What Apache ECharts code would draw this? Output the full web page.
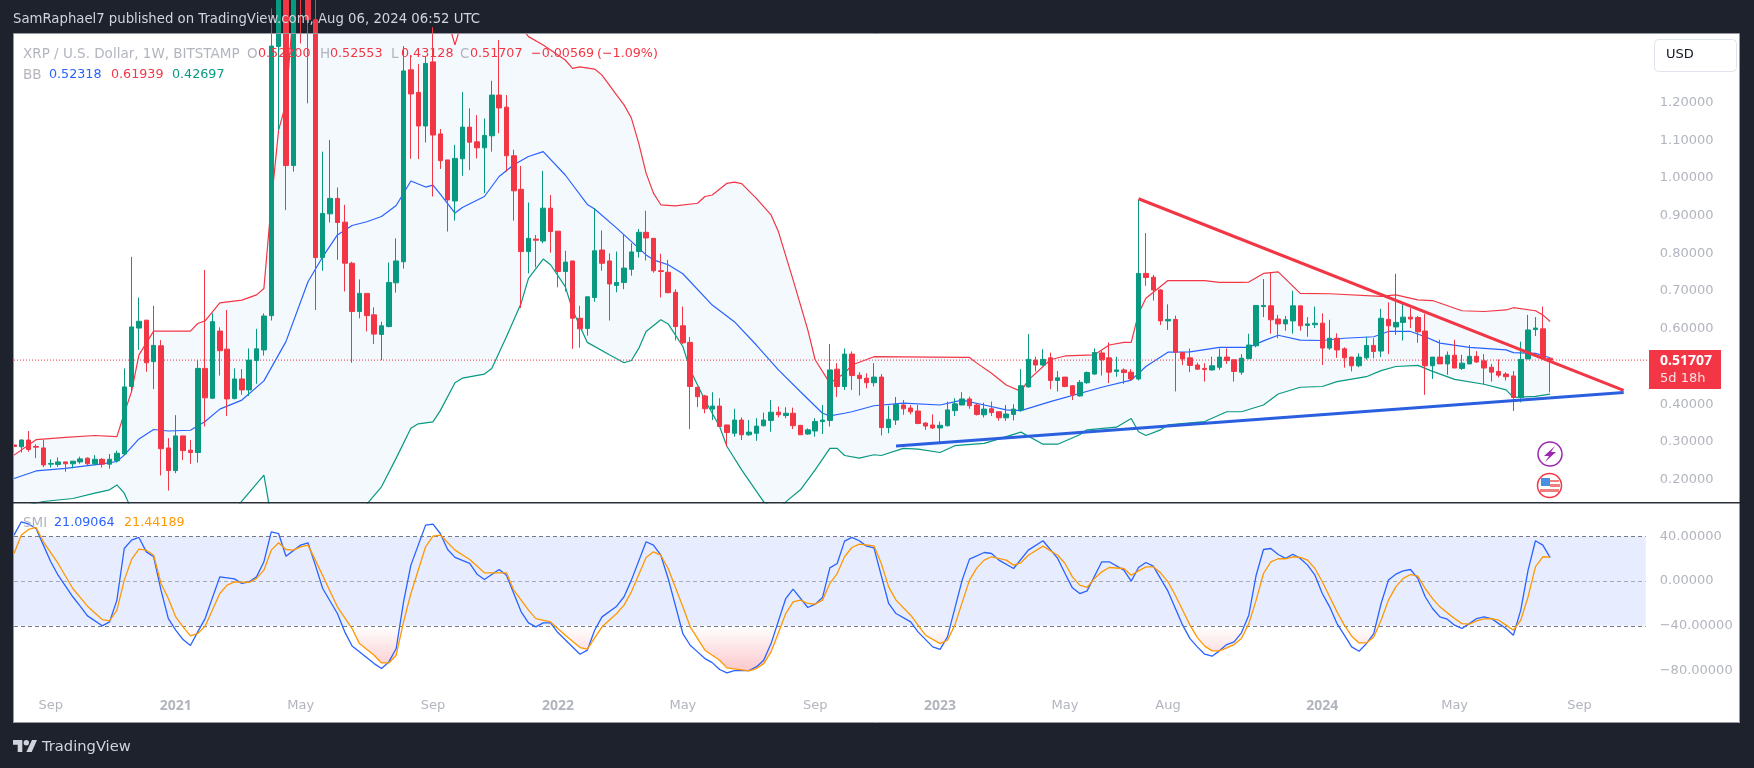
<!DOCTYPE html>
<html><head><meta charset="utf-8">
<script src="https://cdn.jsdelivr.net/npm/echarts@6/dist/echarts.min.js"></script>
<style>html,body{margin:0;padding:0;background:#1e222d}#c{width:1754px;height:768px}</style>
</head><body><div id="c"></div>
<script>
const open=[.292,.287,.305,.288,.284,.241,.240,.247,.242,.247,
.257,.242,.254,.241,.250,.268,.447,.602,.623,.513,
.555,.284,.224,.316,.278,.272,.495,.416,.594,.546,
.415,.467,.438,.516,.544,.635,1.349,1.60,1.033,1.60,
1.70,1.42,.789,.905,.946,.883,.774,.646,.694,.637,
.585,.606,.722,.778,1.287,1.227,1.138,1.308,1.117,1.048,
.939,1.051,1.135,1.096,1.080,1.112,1.220,1.188,1.059,.970,
.805,.838,.833,.920,.859,.752,.780,.628,.601,.683,
.809,.780,.715,.723,.758,.805,.856,.840,.754,.750,
.697,.608,.564,.445,.422,.387,.395,.345,.323,.358,
.319,.323,.343,.357,.379,.370,.376,.344,.321,.329,
.354,.357,.493,.447,.533,.477,.469,.457,.472,.338,
.358,.398,.390,.382,.350,.345,.337,.343,.383,.398,
.414,.398,.372,.388,.380,.364,.373,.385,.446,.517,
.504,.523,.463,.472,.449,.422,.457,.480,.536,.523,
.487,.491,.485,.467,.747,.737,.703,.621,.625,.537,
.523,.504,.495,.491,.498,.525,.518,.485,.521,.555,
.659,.661,.626,.613,.621,.661,.609,.611,.615,.549,
.575,.547,.525,.502,.523,.556,.541,.625,.605,.617,
.631,.630,.594,.502,.525,.507,.530,.495,.507,.527,
.515,.498,.487,.480,.475,.418,.520,.598,.600,.522];
const high=[.320,.307,.329,.294,.305,.254,.259,.247,.249,.261,
.259,.265,.257,.268,.277,.495,.791,.683,.623,.661,
.570,.310,.371,.316,.305,.517,.756,.641,.604,.650,
.495,.493,.548,.600,.641,1.45,1.70,1.96,1.65,1.80,
1.85,1.50,1.070,1.101,.975,.929,.778,.731,.694,.657,
.619,.776,.840,1.350,1.326,1.302,1.322,1.40,1.130,1.048,
1.088,1.228,1.185,1.167,1.158,1.258,1.366,1.220,1.075,1.032,
.935,.849,1.019,.955,.859,.807,.780,.661,.685,.920,
.861,.800,.805,.851,.827,.865,.913,.840,.799,.783,
.705,.659,.578,.445,.425,.432,.416,.345,.388,.365,
.358,.363,.378,.411,.394,.392,.391,.345,.336,.363,
.398,.560,.509,.548,.540,.485,.482,.509,.480,.396,
.419,.411,.398,.398,.352,.373,.354,.407,.416,.432,
.420,.401,.404,.407,.380,.398,.400,.493,.586,.526,
.546,.537,.488,.472,.451,.464,.487,.548,.542,.564,
.526,.495,.493,.942,.854,.743,.705,.665,.635,.537,
.548,.510,.509,.526,.548,.548,.518,.533,.587,.662,
.732,.750,.637,.634,.701,.661,.631,.659,.641,.624,
.588,.551,.526,.535,.579,.575,.653,.670,.746,.668,
.655,.634,.640,.525,.571,.540,.571,.531,.557,.541,
.533,.507,.519,.485,.488,.566,.637,.631,.659,.52553];
const low=[.283,.272,.274,.257,.233,.232,.234,.221,.230,.242,
.238,.238,.232,.229,.245,.265,.431,.544,.486,.440,
.211,.171,.217,.252,.242,.245,.341,.414,.476,.369,
.413,.425,.422,.454,.529,.622,1.127,.915,1.017,1.357,
1.198,.650,.754,.882,.783,.699,.510,.628,.593,.560,
.517,.604,.696,.760,1.051,1.050,1.094,.951,1.024,.858,
.887,1.006,1.021,1.052,.960,1.070,1.119,1.017,.887,.655,
.747,.763,.827,.802,.710,.699,.547,.550,.582,.672,
.754,.622,.697,.705,.741,.789,.781,.749,.683,.694,
.569,.560,.334,.392,.376,.358,.341,.288,.314,.305,
.316,.303,.341,.327,.365,.363,.334,.319,.319,.314,
.321,.341,.419,.438,.438,.423,.442,.447,.317,.323,
.345,.372,.373,.347,.332,.334,.299,.341,.369,.398,
.388,.370,.365,.369,.356,.356,.357,.380,.444,.487,
.502,.440,.434,.445,.411,.420,.454,.478,.476,.456,
.473,.454,.463,.463,.714,.675,.610,.597,.434,.504,
.485,.491,.460,.489,.491,.507,.460,.478,.519,.551,
.631,.587,.575,.595,.587,.595,.579,.602,.504,.544,
.523,.497,.487,.498,.518,.522,.525,.533,.584,.569,
.602,.563,.425,.467,.507,.478,.496,.491,.506,.510,
.453,.460,.471,.463,.382,.405,.520,.581,.519,.43128];
const close=[.288,.305,.280,.286,.239,.243,.247,.242,.249,.255,
.242,.254,.241,.254,.270,.446,.605,.620,.510,.556,
.282,.224,.316,.277,.272,.495,.417,.619,.542,.414,
.467,.438,.517,.547,.634,1.350,1.56,1.033,1.55,1.48,
1.42,.789,.906,.946,.882,.774,.646,.694,.635,.586,
.608,.723,.780,1.284,1.223,1.138,1.304,1.114,1.046,.942,
1.052,1.135,1.095,1.080,1.113,1.220,1.186,1.059,.966,.805,
.840,.835,.920,.858,.752,.777,.628,.600,.685,.807,
.774,.719,.723,.761,.804,.856,.841,.754,.752,.696,
.606,.563,.447,.420,.388,.395,.341,.325,.358,.319,
.326,.342,.358,.379,.372,.376,.343,.319,.332,.354,
.358,.491,.447,.533,.476,.468,.457,.472,.338,.360,
.399,.388,.380,.349,.342,.337,.344,.385,.401,.414,
.396,.373,.387,.378,.364,.374,.387,.449,.519,.504,
.519,.463,.470,.447,.425,.458,.484,.537,.518,.485,
.491,.484,.467,.747,.736,.703,.621,.625,.538,.520,
.503,.493,.492,.502,.525,.516,.487,.522,.557,.662,
.662,.624,.613,.624,.661,.608,.613,.615,.549,.575,
.544,.523,.502,.525,.556,.540,.628,.608,.617,.631,
.626,.592,.502,.525,.507,.530,.496,.509,.527,.512,
.496,.485,.477,.473,.418,.519,.597,.602,.522,.51707];

const bbUpper=[[0,.265],[3,.306],[7,.312],[11,.317],[14,.314],[15,.376],[16,.434],[17,.531],[19,.594],[24,.594],[25,.614],[26,.621],[28,.669],[31,.676],[33,.690],[34,.707],[35,.933],[36,1.127],[37,1.198],[38,1.45],[39,1.75],[41,2.05],[50,2.15],[55,1.95],[58,1.55],[59,1.42],[60,1.353],[61,1.42],[62,1.6],[66,1.65],[68,1.5],[69,1.40],[70,1.375],[72,1.353],[75,1.313],[76,1.291],[77,1.295],[79,1.289],[80,1.273],[82,1.220],[83,1.194],[84,1.159],[85,1.092],[86,1.013],[87,.960],[88,.929],[90,.926],[93,.933],[94,.951],[95,.955],[97,.986],[98,.989],[99,.985],[101,.946],[103,.902],[104,.858],[106,.730],[108,.597],[109,.518],[111,.456],[113,.482],[114,.504],[117,.526],[125,.525],[130,.524],[131,.509],[133,.482],[135,.451],[137,.434],[138,.464],[141,.518],[143,.528],[147,.531],[149,.557],[151,.564],[152,.564],[153,.641],[154,.681],[157,.728],[162,.728],[164,.723],[167,.723],[168,.724],[170,.747],[172,.751],[175,.694],[179,.693],[186,.686],[188,.690],[191,.677],[193,.675],[197,.648],[200,.646],[203,.650],[204,.656],[207,.648],[208,.637],[209,.61939]];
const bbBasis=[[0,.203],[3,.223],[7,.230],[12,.242],[14,.248],[15,.265],[17,.308],[19,.333],[21,.329],[24,.331],[26,.354],[28,.387],[31,.411],[34,.462],[37,.566],[40,.725],[42,.791],[44,.849],[46,.874],[48,.884],[50,.898],[52,.927],[54,.992],[56,.976],[57,.981],[58,.957],[60,.907],[61,.922],[64,.951],[66,1.004],[68,1.035],[70,1.057],[72,1.070],[75,1.008],[78,.930],[79,.918],[82,.867],[86,.796],[87,.783],[89,.770],[91,.746],[95,.663],[98,.619],[101,.557],[104,.491],[107,.433],[110,.376],[111,.369],[113,.376],[114,.380],[117,.396],[121,.403],[126,.398],[129,.411],[132,.398],[135,.385],[137,.383],[141,.407],[148,.445],[152,.464],[154,.500],[157,.538],[160,.539],[164,.551],[168,.551],[170,.568],[172,.583],[175,.570],[178,.569],[181,.575],[185,.579],[187,.593],[190,.593],[192,.579],[194,.562],[198,.551],[203,.544],[204,.537],[207,.535],[209,.52318]];
const bbLower=[[0,.125],[4,.142],[8,.150],[11,.164],[13,.173],[14,.186],[15,.164],[16,.12],[20,-.02],[25,0],[30,.12],[34,.212],[35,.1],[38,-.5],[45,-.3],[48,.135],[50,.181],[52,.257],[54,.336],[55,.348],[57,.353],[58,.383],[60,.457],[61,.469],[64,.480],[65,.495],[67,.579],[69,.668],[70,.734],[72,.785],[73,.770],[75,.712],[76,.650],[78,.564],[81,.531],[83,.510],[84,.516],[85,.548],[86,.593],[88,.624],[89,.613],[91,.553],[92,.491],[94,.411],[96,.341],[97,.288],[99,.226],[102,.141],[104,.12],[105,.141],[107,.173],[109,.226],[111,.283],[112,.283],[113,.264],[115,.257],[117,.266],[118,.264],[121,.283],[123,.281],[126,.272],[128,.290],[132,.296],[137,.326],[140,.294],[142,.294],[145,.319],[146,.332],[150,.339],[152,.362],[153,.327],[154,.317],[156,.332],[157,.345],[162,.354],[165,.380],[167,.380],[170,.398],[172,.427],[175,.445],[178,.447],[180,.460],[184,.473],[186,.489],[188,.500],[191,.503],[193,.487],[196,.466],[200,.453],[203,.438],[204,.418],[207,.421],[209,.42697]];

const smiValues=[[0,41.2],[1,53.1],[2,51],[3,47.1],[4,32.2],[5,17.3],[6,5.3],[8,-14],[9,-22.4],[10,-31.1],[12,-40],[13,-36.5],[14,-17],[15,29.2],[16,36.7],[17,39.1],[18,26.2],[19,21.8],[20,-8.1],[21,-33.5],[22,-43.9],[23,-52.3],[24,-57.6],[25,-45.4],[26,-33.5],[28,3.8],[30,2],[31,-2.1],[32,-.6],[33,3.8],[34,17.3],[35,44.1],[36,42.6],[37,22.3],[39,32.2],[40,34.3],[41,14.3],[42,-6.6],[44,-29],[45,-45.4],[46,-58],[49,-73.8],[50,-78.2],[51,-72.3],[52,-60.3],[53,-18.5],[54,14.3],[56,50.1],[57,51],[58,42.6],[59,28.3],[60,21.2],[62,15.8],[63,6.2],[64,1.5],[66,10.4],[67,5.3],[69,-27.5],[70,-37.4],[71,-40.9],[72,-37.4],[73,-37.4],[74,-46],[77,-65.4],[78,-61.8],[79,-44],[80,-32],[82,-22.4],[83,-14],[84,.9],[86,35.2],[87,32.2],[88,23.2],[89,2.4],[91,-46.9],[92,-57.4],[93,-63.3],[94,-69.3],[95,-72.9],[96,-79.1],[97,-82.1],[98,-80],[100,-80],[101,-76.8],[102,-70.8],[103,-55.9],[105,-15.6],[106,-7.2],[108,-23.6],[109,-20.6],[110,-14.7],[111,11.9],[112,15.8],[113,35.8],[114,39.1],[115,36.1],[116,31.3],[117,29.8],[119,-20],[120,-29],[122,-36.5],[123,-45.4],[125,-58.8],[126,-61],[127,-49.9],[129,.9],[130,19.7],[132,25.6],[133,24.7],[134,18.8],[136,11.3],[138,27.7],[140,36.1],[142,20.3],[143,6.8],[144,-6],[145,-11.1],[146,-8.7],[148,17.3],[149,17.3],[151,9.8],[152,0],[153,12.2],[154,16.7],[155,13.4],[157,-9],[159,-39.4],[160,-51.4],[161,-58.8],[162,-65.4],[163,-67.2],[164,-62.4],[165,-56.8],[166,-54.4],[167,-46.3],[168,-30.5],[169,5.3],[170,28.3],[171,29.2],[172,23.8],[173,20.3],[174,24.1],[175,20.3],[176,14.3],[177,5.3],[178,-11.1],[179,-23],[180,-38],[181,-48.4],[182,-58.8],[183,-62.7],[184,-55.9],[185,-46.9],[186,-20],[187,.9],[188,6.2],[189,9.2],[190,10.4],[191,2.4],[192,-14],[193,-24.5],[194,-32],[195,-34.1],[196,-39.4],[197,-42.4],[198,-38],[199,-33.5],[200,-32],[201,-33.5],[202,-38],[203,-42.4],[204,-48.4],[205,-26],[206,9.8],[207,36.1],[208,32.2],[209,21.09064]];
const smiSignal=[[0,24.7],[1,41.2],[2,46.2],[3,48],[4,35.2],[6,15.8],[8,-6.6],[10,-22.4],[12,-34.4],[13,-35.6],[14,-26],[15,.9],[16,19.4],[17,28.6],[18,27.7],[19,23.2],[20,-2.1],[21,-15.6],[22,-32],[23,-40.9],[24,-49],[25,-46.9],[26,-40.3],[28,-11.1],[29,-3.6],[30,-.6],[32,-1.2],[33,2.4],[34,9.8],[35,27.7],[36,34.3],[37,28.3],[38,27.7],[39,30.7],[40,32.2],[41,18.8],[44,-23],[46,-42.4],[47,-55.9],[49,-66.3],[50,-73.2],[51,-73.2],[52,-66.3],[53,-36.5],[54,-11.1],[56,30.7],[57,40.3],[58,41.2],[60,27.7],[62,19.4],[64,7.4],[65,7.4],[67,7.4],[68,-8.1],[70,-26],[71,-33.5],[73,-36.5],[75,-48.4],[77,-59.4],[78,-60.9],[80,-40.9],[82,-29],[83,-21.5],[84,-9.6],[86,21.2],[87,26.2],[88,23.2],[89,11.3],[91,-23],[92,-40.9],[94,-61.8],[96,-70.8],[97,-77.6],[100,-80.3],[101,-78.2],[102,-73.8],[103,-63.3],[105,-29],[106,-18.5],[107,-17],[108,-20],[109,-20.6],[110,-17],[111,-2.1],[112,6.8],[113,21.8],[114,30.1],[115,33.1],[117,31.6],[118,15.8],[119,-5.1],[120,-17],[122,-30.5],[124,-48.4],[126,-55.9],[127,-52.9],[128,-39.4],[130,.9],[131,11.9],[132,18.8],[133,21.8],[135,18.8],[136,14.3],[137,16.4],[138,23.2],[140,31.3],[142,23.2],[143,15.8],[144,3.8],[145,-3.6],[146,-5.7],[147,2.4],[148,8.3],[149,12.2],[151,11.3],[152,5.3],[153,9.2],[154,12.8],[155,12.8],[156,7.4],[157,-.6],[158,-12.6],[159,-26],[160,-39.4],[161,-50.5],[162,-58.2],[163,-62.4],[164,-62.4],[165,-59.7],[166,-56.8],[167,-51.4],[168,-38],[169,-17],[170,6.8],[171,17.3],[172,20],[173,20],[174,21.8],[175,21.2],[176,18.8],[177,11.3],[178,-.6],[179,-14],[180,-27.5],[181,-39.4],[182,-49.3],[183,-55.3],[184,-55.3],[185,-49.9],[186,-35],[187,-17],[188,-5.1],[189,2.4],[190,5.9],[191,4.4],[192,-6.6],[193,-15.6],[194,-23],[195,-28.4],[196,-33.5],[197,-38],[198,-38.5],[199,-35.6],[200,-33.8],[201,-33.5],[202,-35],[203,-39.4],[204,-43.9],[205,-35],[206,-14],[207,12.8],[208,21.8],[209,21.44189]];

const resistanceLine=[[153,.945],[219,.437]];
const supportLine=[[120,.289],[219,.431]];
const lastPrice=0.51707;
const priceTicks=[1.2,1.1,1.0,.9,.8,.7,.6,.5,.4,.3,.2];
const smiTicks=[40,0,-40,-80];
const timeTickIndex=[5,22,39,57,74,91,109,126,143,157,178,196,213];
const timeTickText=['Sep','2021','May','Sep','2022','May','Sep','2023','May','Aug','2024','May','Sep'];
const SLOTS=224;
const categories=Array.from({length:SLOTS},(_,i)=>String(i));

const FONT='"DejaVu Sans"';
const GREEN='#089981',RED='#F23645',BLUE='#2962FF',ORANGE='#FF9800',GREY='#b2b5be';
const BAND_END=222;

const oversold=[];
smiSignal.forEach((p,k)=>{
  const prev=k?smiSignal[k-1][1]:0, next=k<smiSignal.length-1?smiSignal[k+1][1]:0;
  if(p[1]<-40) oversold.push(p);
  else if(prev<-40||next<-40) oversold.push([p[0],-40]);
  else oversold.push([p[0],null]);
});

const txt=(x,y,text,fill,extra)=>({type:'text',x,y,z:60,silent:true,style:Object.assign({text,fill,font:'13px '+FONT,textVerticalAlign:'middle'},extra||{})});
const num=(x,y,text,fill)=>txt(x,y,text,fill,{font:'12.7px '+FONT});
const lab=(x,y,text)=>txt(x,y,text,GREY,{font:'13.5px '+FONT});
const line=(name,data,color,width,yi,z)=>({name,type:'line',data,xAxisIndex:yi,yAxisIndex:yi,symbol:'none',silent:true,z,lineStyle:{color,width},animation:false});

const opt={
 animation:false,
 backgroundColor:'#1e222d',
 grid:[{left:10.325,width:SLOTS*7.35,top:34,height:469},{left:10.325,width:SLOTS*7.35,top:503,height:190}],
 xAxis:[
  {type:'category',gridIndex:0,data:categories,show:false},
  {type:'category',gridIndex:1,data:categories,axisLine:{show:false},axisTick:{show:false},
   axisLabel:{margin:6,hideOverlap:false,interval:i=>timeTickIndex.includes(i),color:GREY,fontFamily:FONT,fontSize:13,
    formatter:v=>{const t=timeTickText[timeTickIndex.indexOf(+v)];return /^\d/.test(t)?'{b|'+t+'}':t;},
    rich:{b:{fontWeight:'bold',color:GREY,fontFamily:'"Noto Sans"',fontSize:14}}}}
 ],
 yAxis:[
  {type:'value',gridIndex:0,position:'right',min:.138,max:1.382,splitLine:{show:false},axisLine:{show:false},axisTick:{show:false},
   axisLabel:{margin:3,color:GREY,fontFamily:FONT,fontSize:13,customValues:priceTicks,formatter:v=>v.toFixed(5)}},
  {type:'value',gridIndex:1,position:'right',min:-100.1,max:69.9,splitLine:{show:false},axisLine:{show:false},axisTick:{show:false},
   axisLabel:{margin:3,color:GREY,fontFamily:FONT,fontSize:13,customValues:smiTicks,formatter:v=>(v<0?'\u2212':'')+Math.abs(v).toFixed(5)}}
 ],
 series:[
  {type:'custom',coordinateSystem:'cartesian2d',xAxisIndex:0,yAxisIndex:0,clip:true,silent:true,z:1,data:[[0,0]],
   renderItem:(p,api)=>({type:'polygon',shape:{points:[...bbUpper.map(q=>api.coord(q)),...bbLower.slice().reverse().map(q=>api.coord(q))]},style:{fill:'#f4f9fe'}})},
  line('BB Upper',bbUpper,RED,1.2,0,2),
  line('BB Basis',bbBasis,BLUE,1.2,0,2),
  line('BB Lower',bbLower,GREEN,1.2,0,2),
  {name:'Last price',type:'line',data:[[0,lastPrice],[223,lastPrice]],xAxisIndex:0,yAxisIndex:0,symbol:'none',silent:true,z:3,lineStyle:{color:RED,width:1,type:[1,2]}},
  {name:'XRP',type:'candlestick',xAxisIndex:0,yAxisIndex:0,z:4,barWidth:5,silent:true,
   data:open.map((o,i)=>[o,close[i],low[i],high[i]]),
   itemStyle:{color:GREEN,color0:RED,borderColor:GREEN,borderColor0:RED,borderWidth:1}},
  line('Resistance',resistanceLine,'#F23645',3,0,5),
  line('Support',supportLine,'#2A5FE0',3,0,5),
  {name:'Oversold',type:'line',data:oversold,xAxisIndex:1,yAxisIndex:1,symbol:'none',silent:true,z:2,lineStyle:{width:0},
   areaStyle:{origin:-40,opacity:1,color:{type:'linear',global:true,x:0,y:626,x2:0,y2:672,colorStops:[{offset:0,color:'rgba(242,54,69,0)'},{offset:1,color:'rgba(242,54,69,.28)'}]}}},
  Object.assign(line('SMI',smiValues,'#2962FF',1.3,1,4),{
   markArea:{silent:true,z:1,itemStyle:{color:'rgba(41,98,255,.115)'},data:[[{coord:[0,40]},{coord:[BAND_END,-40]}]]},
   markLine:{silent:true,symbol:'none',z:3,label:{show:false},data:[
    [{coord:[0,40],lineStyle:{color:'#787b86',width:1,type:[4,3]}},{coord:[BAND_END,40]}],
    [{coord:[0,0],lineStyle:{color:'rgba(120,123,134,.6)',width:1,type:[4,3]}},{coord:[BAND_END,0]}],
    [{coord:[0,-40],lineStyle:{color:'#787b86',width:1,type:[4,3]}},{coord:[BAND_END,-40]}]]}}),
  line('SMI Signal',smiSignal,ORANGE,1.3,1,4)
 ],
 graphic:[
  {type:'rect',z:-10,silent:true,shape:{x:13,y:34,width:1727,height:689},style:{fill:'#ffffff'}},
  {type:'rect',z:50,silent:true,shape:{x:0,y:0,width:13,height:768},style:{fill:'#1e222d'}},
  {type:'rect',z:51,silent:true,shape:{x:13.5,y:33.5,width:1726,height:689},style:{fill:'none',stroke:'#9598a1',lineWidth:1}},
  {type:'rect',z:51,silent:true,shape:{x:13,y:502,width:1727,height:1.6},style:{fill:'#2a2e39'}},
  txt(13,20,'SamRaphael7 published on TradingView.com, Aug 06, 2024 06:52 UTC','#d1d4dc',{font:'13.25px '+FONT}),
  lab(23,54,'XRP / U.S. Dollar, 1W, BITSTAMP'),
  lab(247,54,'O'),num(258,54,'0.52200',RED),
  lab(320,54,'H'),num(330,54,'0.52553',RED),
  lab(391,54,'L'),num(401,54,'0.43128',RED),
  lab(460,54,'C'),num(470,54,'0.51707',RED),
  num(531,54,'\u22120.00569',RED),num(597,54,'(\u22121.09%)',RED),
  lab(23,75,'BB'),num(49,75,'0.52318',BLUE),num(111,75,'0.61939',RED),num(172,75,'0.42697',GREEN),
  lab(23,523,'SMI'),num(54,523,'21.09064',BLUE),num(124,523,'21.44189',ORANGE),
  {type:'rect',z:55,silent:true,shape:{x:1654.5,y:39.5,width:82,height:32,r:4},style:{fill:'#fff',stroke:'#e0e3eb',lineWidth:1}},
  txt(1666,55,'USD','#131722'),
  {type:'rect',z:55,silent:true,shape:{x:1649,y:350,width:72,height:39},style:{fill:RED}},
  txt(1660,361,'0.51707','#ffffff',{font:'bold 14px "Noto Sans"'}),
  txt(1660,379,'5d 18h','rgba(255,255,255,.85)'),
  {type:'circle',z:55,silent:true,shape:{cx:1550,cy:454,r:12},style:{fill:'#fff',stroke:'#9c27b0',lineWidth:1.5}},
  {type:'polygon',z:56,silent:true,shape:{points:[[1555,446],[1544,456],[1549,456],[1545,462],[1556,452],[1551,452]]},style:{fill:'#9c27b0'}},
  {type:'circle',z:55,silent:true,shape:{cx:1549.5,cy:485.5,r:12},style:{fill:'#fff',stroke:'#F23645',lineWidth:1.5}},
  {type:'rect',z:56,silent:true,shape:{x:1541,y:478,width:9,height:8},style:{fill:'#4a90e2'}},
  {type:'rect',z:56,silent:true,shape:{x:1550,y:480,width:9,height:2},style:{fill:'#f08080'}},
  {type:'rect',z:56,silent:true,shape:{x:1550,y:484,width:10,height:3},style:{fill:'#f08080'}},
  {type:'rect',z:56,silent:true,shape:{x:1540,y:489,width:19,height:3},style:{fill:'#f08080'}},
  {type:'polygon',z:55,silent:true,shape:{points:[[13,740],[22.3,740],[22.3,752],[17.7,752],[17.7,744.7],[13,744.7]]},style:{fill:'#d1d4dc'}},
  {type:'circle',z:55,silent:true,shape:{cx:26.3,cy:742.7,r:2.7},style:{fill:'#d1d4dc'}},
  {type:'polygon',z:55,silent:true,shape:{points:[[32,740],[37,740],[31.7,752],[26.3,752]]},style:{fill:'#d1d4dc'}},
  txt(42,747,'TradingView','#d1d4dc',{font:'14.7px '+FONT})
 ]
};
echarts.init(document.getElementById('c'),null,{renderer:'canvas'}).setOption(opt);
</script></body></html>
